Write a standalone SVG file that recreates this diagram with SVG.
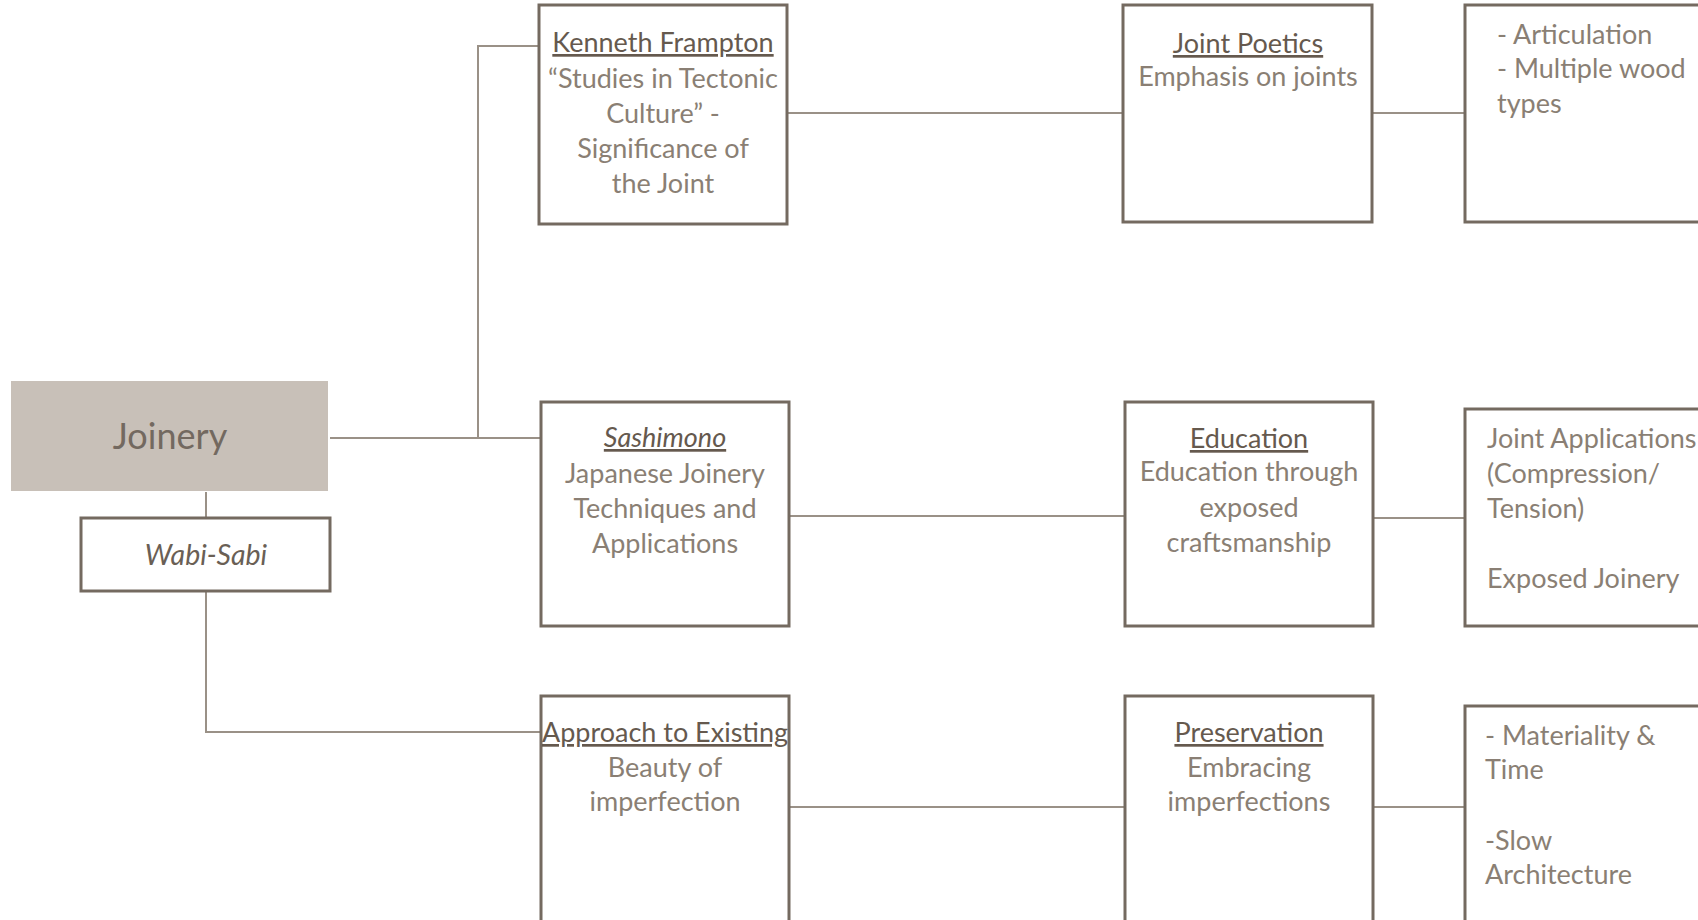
<svg xmlns="http://www.w3.org/2000/svg" width="1698" height="920" viewBox="0 0 1698 920">
<style>
.box{fill:#fff;stroke:#746a60;stroke-width:3}
.conn{fill:none;stroke:#9a9187;stroke-width:2}
text{font-family:"Lato","Open Sans","Liberation Sans",sans-serif;font-size:27px;fill:#8a7f74}
.t{fill:#65594e;text-decoration:underline}
.c{text-anchor:middle}
.i{font-style:italic}
</style>
<rect width="1698" height="920" fill="#fff"/>
<g id="connectors">
<path class="conn" d="M330 438H541"/>
<path class="conn" d="M478 438V46H539"/>
<path class="conn" d="M206 492V518"/>
<path class="conn" d="M206 591V732H541"/>
<path class="conn" d="M787 113H1123"/>
<path class="conn" d="M1372 113H1465"/>
<path class="conn" d="M784 516H1125"/>
<path class="conn" d="M1373 518H1467"/>
<path class="conn" d="M789 807H1125"/>
<path class="conn" d="M1373 807H1467"/>
</g>
<g id="joinery">
<rect x="11" y="381" width="317" height="110" fill="#c8c0b8"/>
<text x="170" y="449" class="c" style="font-size:36px;fill:#736960">Joinery</text>
</g>
<g id="wabisabi">
<rect class="box" x="81" y="518" width="249" height="73"/>
<text x="206" y="565" class="c i" style="font-size:28.5px;fill:#6a5f55">Wabi-Sabi</text>
</g>
<g id="frampton">
<rect class="box" x="539" y="5" width="248" height="219"/>
<text x="663" y="52" class="c t">Kenneth Frampton</text>
<text x="663" y="88" class="c">“Studies in Tectonic</text>
<text x="663" y="123" class="c">Culture” -</text>
<text x="663" y="158" class="c">Significance of</text>
<text x="663" y="193" class="c">the Joint</text>
</g>
<g id="jointpoetics">
<rect class="box" x="1123" y="5" width="249" height="217"/>
<text x="1248" y="53" class="c t">Joint Poetics</text>
<text x="1248" y="86" class="c">Emphasis on joints</text>
</g>
<g id="articulation">
<rect class="box" x="1465" y="5" width="250" height="217"/>
<text x="1497" y="44">- Articulation</text>
<text x="1497" y="78">- Multiple wood</text>
<text x="1497" y="113">types</text>
</g>
<g id="sashimono">
<rect class="box" x="541" y="402" width="248" height="224"/>
<text x="665" y="447" class="c t i">Sashimono</text>
<text x="665" y="483" class="c">Japanese Joinery</text>
<text x="665" y="518" class="c">Techniques and</text>
<text x="665" y="553" class="c">Applications</text>
</g>
<g id="education">
<rect class="box" x="1125" y="402" width="248" height="224"/>
<text x="1249" y="448" class="c t">Education</text>
<text x="1249" y="481" class="c">Education through</text>
<text x="1249" y="517" class="c">exposed</text>
<text x="1249" y="552" class="c">craftsmanship</text>
</g>
<g id="applications">
<rect class="box" x="1465" y="409" width="250" height="217"/>
<text x="1487" y="448">Joint Applications</text>
<text x="1487" y="483">(Compression/</text>
<text x="1487" y="518">Tension)</text>
<text x="1487" y="588">Exposed Joinery</text>
</g>
<g id="approach">
<rect class="box" x="541" y="696" width="248" height="240"/>
<text x="665" y="742" class="c t">Approach to Existing</text>
<text x="665" y="777" class="c">Beauty of</text>
<text x="665" y="811" class="c">imperfection</text>
</g>
<g id="preservation">
<rect class="box" x="1125" y="696" width="248" height="240"/>
<text x="1249" y="742" class="c t">Preservation</text>
<text x="1249" y="777" class="c">Embracing</text>
<text x="1249" y="811" class="c">imperfections</text>
</g>
<g id="materiality">
<rect class="box" x="1465" y="706" width="250" height="230"/>
<text x="1485" y="745">- Materiality &amp;</text>
<text x="1485" y="779">Time</text>
<text x="1485" y="850">-Slow</text>
<text x="1485" y="884">Architecture</text>
</g>
</svg>
